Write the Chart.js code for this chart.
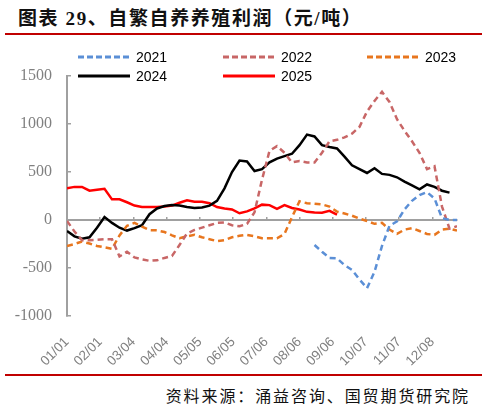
<!DOCTYPE html>
<html>
<head>
<meta charset="utf-8">
<script src="https://cdn.jsdelivr.net/npm/chart.js@4.4.1/dist/chart.umd.min.js"></script>
<style>
  html, body { margin: 0; padding: 0; background: #fff; }
  #page { position: relative; width: 487px; height: 408px; overflow: hidden; }
  #title { position: absolute; left: 18px; top: 3px; font-family: "Liberation Serif", "Noto Sans CJK SC"; font-weight: bold; font-size: 19px; letter-spacing: 1.6px; color: #111; white-space: nowrap; }
  .rule { position: absolute; left: 5px; width: 477px; height: 2px; background: #c00000; }
  #source { position: absolute; right: 17px; top: 383px; font-family: "Noto Sans CJK SC"; font-size: 16px; letter-spacing: 1.9px; color: #111; white-space: nowrap; }
  #chartBox { position: absolute; left: 0; top: 40px; width: 487px; height: 332px; }
  .lg { position: absolute; font-family: "Liberation Sans", Arial; font-size: 14px; color: #000; line-height: 16px; }
  .lg svg { position: absolute; top: 6px; }
</style>
</head>
<body>
<div id="page">
  <div id="title">图表 29、自繁自养养殖利润（元/吨）</div>
  <div class="rule" style="top:33px"></div>
  <div id="chartBox"><canvas id="profitChart"></canvas></div>
  <div id="legend"></div>
  <div class="rule" style="top:374px"></div>
  <div id="source">资料来源：涌益咨询、国贸期货研究院</div>
</div>
<script>
// day of year for each weekly reading
var weekDays = [0, 7, 14, 21, 28, 35, 42, 49, 56, 63, 70, 77, 84, 91, 98, 105, 112, 119, 126, 133,
  140, 147, 154, 161, 168, 175, 182, 189, 196, 203, 210, 217, 224, 231, 238, 245, 252, 259, 266, 273,
  280, 287, 294, 301, 308, 315, 322, 329, 336, 343, 350, 357, 364];

var tickLabels = ['01/01', '02/01', '03/04', '04/04', '05/05', '06/05', '07/06', '08/06', '09/06', '10/07', '11/07', '12/08'];

var seriesNames = ['2021', '2022', '2023', '2024', '2025'];

var v2021 = [null, null, null, null, null, null, null, null, null, null,
  null, null, null, null, null, null, null, null, null, null,
  null, null, null, null, null, null, null, null, null, null,
  null, null, null, -260, -330, -395, -400, -470, -520, -620,
  -710, -540, -270, -60, -15, 110, 200, 260, 290, 225,
  20, 0, 0];

var v2022 = [-10, -120, -210, -210, -205, -200, -200, -380, -330, -390,
  -410, -425, -420, -395, -375, -260, -140, -104, -80, -55,
  -30, -25, -55, -65, -40, 80, 420, 720, 770, 700,
  600, 615, 600, 600, 700, 820, 835, 860, 900, 970,
  1130, 1240, 1335, 1230, 1050, 930, 820, 700, 530, 560,
  140, -90, -65];

var v2023 = [-270, -250, -225, -245, -270, -285, -300, -160, -60, -30,
  -70, -105, -108, -125, -160, -190, -170, -155, -180, -200,
  -220, -210, -180, -165, -155, -170, -190, -190, -190, -145,
  30, 195, 175, 170, 162, 140, 87, 68, 45, 15,
  -10, -40, -30, -100, -145, -100, -85, -115, -145, -155,
  -100, -90, -110];

var v2024 = [-115, -170, -195, -180, -80, 30, -30, -80, -110, -85,
  -55, 60, 120, 145, 155, 150, 135, 125, 130, 150,
  200, 330, 500, 620, 610, 510, 530, 600, 640, 665,
  690, 780, 890, 870, 780, 760, 745, 660, 570, 530,
  490, 540, 480, 470, 445, 400, 360, 320, 370, 345,
  305, 285, null];

var v2025 = [330, 345, 345, 305, 315, 325, 215, 215, 185, 150,
  135, 135, 135, 140, 150, 180, 205, 190, 190, 175,
  135, 120, 110, 70, 90, 120, 160, 155, 115, 155,
  125, 110, 85, 78, 76, 95, 55];

var colors = ['#5b8fd6', '#c86666', '#e8761e', '#000000', '#ff0000'];
var dashed = [true, true, true, false, false];
var values = [v2021, v2022, v2023, v2024, v2025];

function toPoints(arr) {
  var pts = [];
  for (var i = 0; i < arr.length; i++) {
    pts.push({x: weekDays[i], y: arr[i]});
  }
  return pts;
}

var datasets = seriesNames.map(function (name, i) {
  return {
    label: name,
    data: toPoints(values[i]),
    borderColor: colors[i],
    backgroundColor: colors[i],
    borderWidth: 2.5,
    borderDash: dashed[i] ? [6, 4] : [],
    pointRadius: 0,
    tension: 0,
    xAxisID: 'x'
  };
});

var axisGrey = '#a0a0a0';
var labelGrey = '#808080';

function monthTicks(axis) {
  axis.ticks = tickLabels.map(function (t, i) { return {value: i * 31}; });
}

new Chart(document.getElementById('profitChart').getContext('2d'), {
  type: 'line',
  data: {datasets: datasets},
  options: {
    responsive: true,
    maintainAspectRatio: false,
    animation: false,
    layout: {padding: {top: 36, right: 30, left: 0, bottom: 0}},
    plugins: {legend: {display: false}, tooltip: {enabled: false}},
    scales: {
      x: {
        type: 'linear', min: 0, max: 364,
        position: 'bottom',
        border: {display: false},
        grid: {display: false},
        afterBuildTicks: monthTicks,
        ticks: {
          autoSkip: false, minRotation: 45, maxRotation: 45, padding: 10,
          color: labelGrey, font: {family: 'Liberation Sans', size: 13.5},
          callback: function (v) { return tickLabels[Math.round(v / 31)]; }
        },
        afterFit: function (s) { s.height = 56; }
      },
      x0: {
        type: 'linear', min: 0, max: 364,
        position: {y: 0},
        border: {display: true, color: axisGrey, width: 2},
        grid: {drawOnChartArea: false, drawTicks: true, tickLength: -4, color: axisGrey, lineWidth: 1.5},
        afterBuildTicks: monthTicks,
        ticks: {display: false}
      },
      y: {
        min: -1000, max: 1500,
        border: {display: true, color: axisGrey, width: 2},
        grid: {drawOnChartArea: false, drawTicks: true, tickLength: -4, color: axisGrey, lineWidth: 1.5},
        ticks: {
          stepSize: 500, padding: 19, color: labelGrey, font: {family: 'Liberation Serif', size: 16},
          callback: function (v) { return String(v); }
        },
        afterFit: function (s) { s.width = 67; }
      }
    }
  }
});

// legend in three columns, two rows
var legendPos = [[78, 49], [223, 49], [367, 49], [78, 68], [223, 68]];
var lg = document.getElementById('legend');
seriesNames.forEach(function (name, i) {
  var d = document.createElement('div');
  d.className = 'lg';
  d.style.left = legendPos[i][0] + 'px';
  d.style.top = legendPos[i][1] + 'px';
  d.style.width = '100px';
  d.style.height = '16px';
  d.innerHTML = '<svg width="52" height="4" style="left:0"><line x1="0" y1="2" x2="52" y2="2" stroke="' + colors[i] +
    '" stroke-width="3"' + (dashed[i] ? ' stroke-dasharray="6,3"' : '') + '/></svg>' +
    '<span style="position:absolute;left:58px;top:0">' + name + '</span>';
  lg.appendChild(d);
});
</script>
</body>
</html>
